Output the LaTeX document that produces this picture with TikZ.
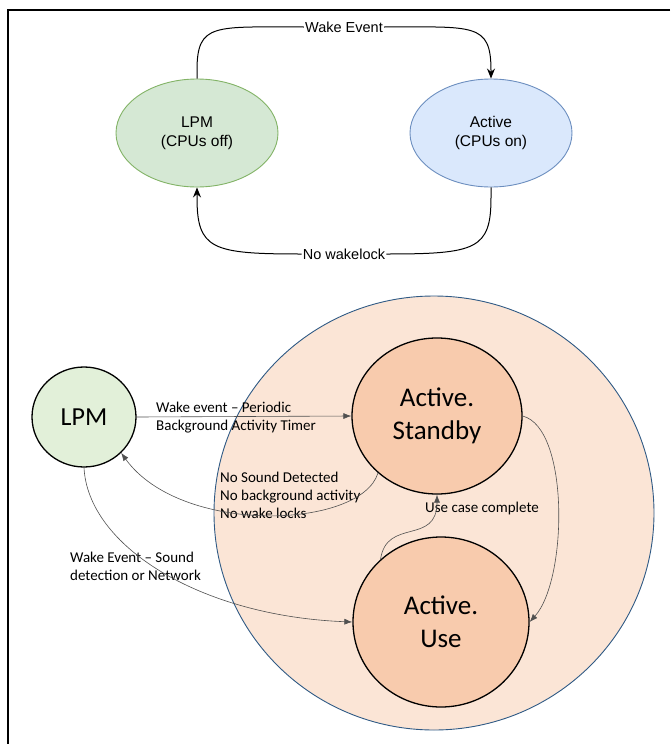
\documentclass[tikz,border=0pt]{standalone}
\usepackage{fontspec}
\setmainfont{Carlito}
\newfontfamily\drawfont{Liberation Sans}
\usepackage{tikz}
\usetikzlibrary{arrows.meta, shapes.geometric, positioning, calc}
\definecolor{LpmFill}{HTML}{D5E8D4}
\definecolor{LpmLine}{HTML}{82B366}
\definecolor{ActFill}{HTML}{DAE8FC}
\definecolor{ActLine}{HTML}{6C8EBF}
\definecolor{ZoneFill}{HTML}{FBE5D6}
\definecolor{ZoneLine}{HTML}{2F5A85}
\definecolor{LowFill}{HTML}{E2F0D9}
\definecolor{StateFill}{HTML}{F8CBAD}
\definecolor{FlowGray}{HTML}{505050}
\tikzstyle{topstate} = [ellipse, minimum width=162pt, minimum height=108pt, inner sep=0pt, line width=0.9pt, align=center, font=\drawfont\fontsize{15.5}{19}\selectfont]
\tikzstyle{topline} = [line width=1pt]
\tikzstyle{toparrow} = [line width=1pt, -{Stealth[length=10pt,width=8pt]}]
\tikzstyle{toplabel} = [fill=white, inner sep=1pt, font=\drawfont\fontsize{14.5}{17}\selectfont]
\tikzstyle{state} = [ellipse, draw, line width=1.3pt, fill=StateFill, inner sep=0pt, align=center, font=\fontsize{27}{33}\selectfont]
\tikzstyle{flow} = [draw=FlowGray, line width=0.6pt, -{Latex[length=8pt,width=6pt]}]
\tikzstyle{flowlabel} = [anchor=west, align=left, inner sep=0pt, font=\fontsize{15}{18}\selectfont]

\begin{document}
\begin{tikzpicture}[x=1pt, y=-1pt]
\useasboundingbox (0,0) rectangle (670,744);
\draw[line width=1.6pt] (670,10) -- (8,10) -- (8,744);

\node[topstate, fill=LpmFill, draw=LpmLine] (lpmTop) at (197,133) {LPM\\(CPUs off)};
\node[topstate, fill=ActFill, draw=ActLine] (actTop) at (491,133) {Active\\(CPUs on)};
\node[toplabel] (wakeLbl) at (344,27) {Wake Event};
\node[toplabel] (noLockLbl) at (344,254) {No wakelock};
\draw[topline] (lpmTop.north) -- ++(0,-8) .. controls +(0,-48) and +(-90,0) .. (wakeLbl.west);
\draw[toparrow] (wakeLbl.east) .. controls +(90,0) and +(0,-48) .. ($(actTop.north)+(0,-8)$) -- (actTop.north);
\draw[topline] (actTop.south) -- ++(0,10) .. controls +(0,52) and +(90,0) .. (noLockLbl.east);
\draw[toparrow] (noLockLbl.west) .. controls +(-90,0) and +(0,52) .. ($(lpmTop.south)+(0,10)$) -- (lpmTop.south);

\node[ellipse, draw=ZoneLine, fill=ZoneFill, line width=0.9pt, minimum width=440pt, minimum height=434pt] (activeZone) at (434,513) {};
\node[ellipse, draw, line width=1.3pt, fill=LowFill, minimum width=104pt, minimum height=100pt, inner sep=0pt, font=\fontsize{26}{30}\selectfont] (lpmLow) at (84,417) {LPM};
\node[state, minimum width=170pt, minimum height=156pt] (standby) at (437,416) {Active.\\Standby};
\node[state, minimum width=176pt, minimum height=170pt] (use) at (441,622) {Active.\\Use};

\node[flowlabel] (periodicLbl) at (156,418) {Wake event – Periodic\\Background Activity Timer};
\node[flowlabel] (quietLbl) at (220,495) {No Sound Detected\\No background activity\\No wake locks};
\node[flowlabel] (soundLbl) at (70,566) {Wake Event – Sound\\detection or Network};
\node[flowlabel] (doneLbl) at (425,508) {Use case complete};

\draw[flow] (lpmLow.east) -- (standby.west);
\draw[flow] (standby.224) .. controls +(-17,56) and +(60,83) .. (lpmLow.316);
\draw[flow] (lpmLow.south) .. controls +(4,78) and +(-153,-6) .. (use.west);
\draw[flow] (use.134) .. controls +(6,-42) and +(0,51) .. (standby.south);
\draw[flow] (standby.east) .. controls +(47,12) and +(38,-42) .. (use.east);
\end{tikzpicture}
\end{document}
